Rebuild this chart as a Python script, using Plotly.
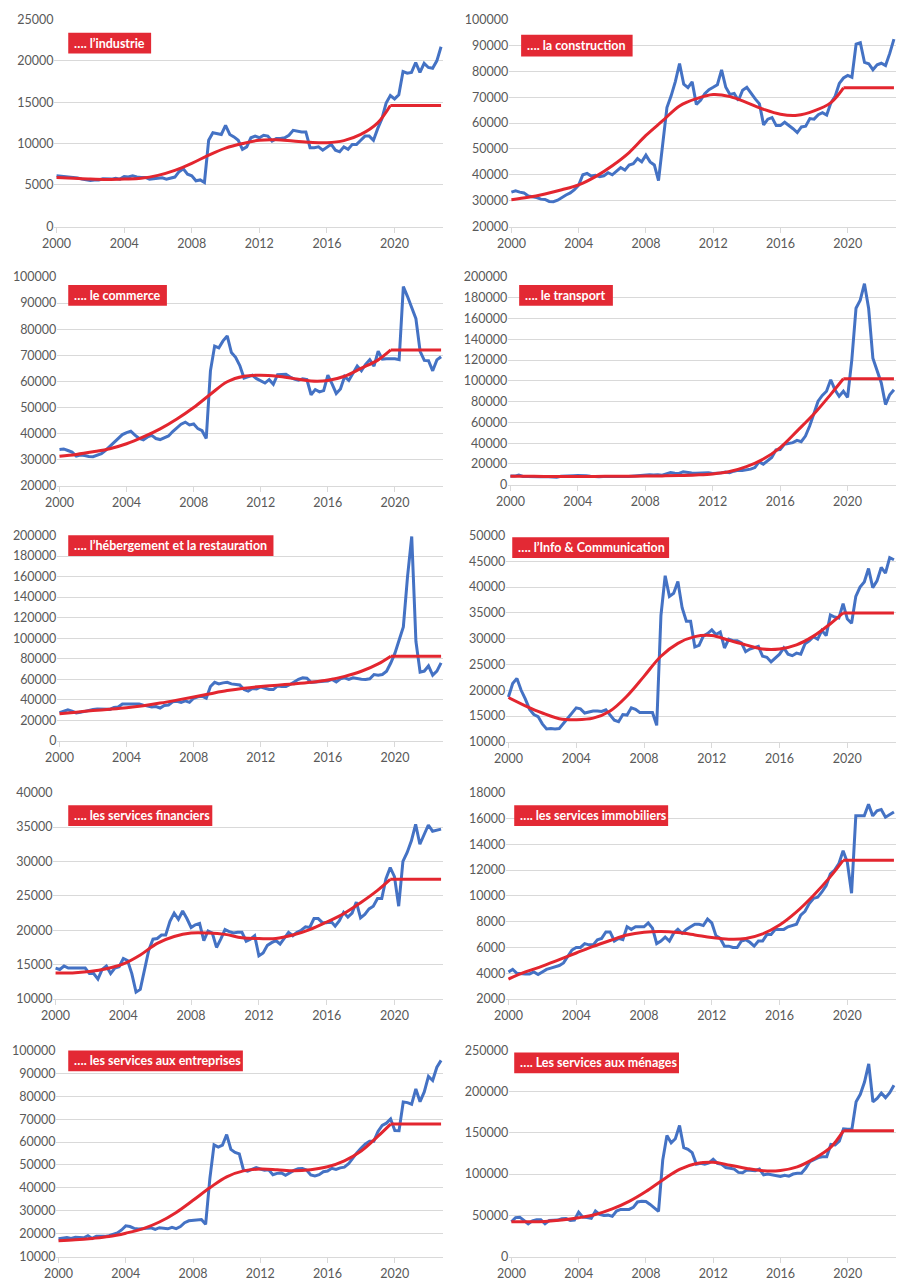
import plotly.graph_objects as go

# ---------------------------------------------------------------------------
# Quarterly series 2000T1 - 2022T4 (92 points) and smoothed trend per sector
# ---------------------------------------------------------------------------
YEARS = list(range(2000, 2023))
QUARTERS = [y + q / 4 for y in YEARS for q in range(4)]
TREND_X = list(range(2000, 2020)) + [2019.75]
PLATEAU_X = [2019.75, 2022.75]
TICK_YEARS = [2000, 2004, 2008, 2012, 2016, 2020]
TICK_TEXT = [str(y) for y in TICK_YEARS]

TITLES = [
    "…. l’industrie",
    "…. la construction",
    "…. le commerce",
    "…. le transport",
    "…. l’hébergement et la restauration",
    "…. l’Info & Communication",
    "…. les services financiers",
    "…. les services immobiliers",
    "…. les services aux entreprises",
    "…. Les services aux ménages",
]

INDUSTRIE = [
    6100, 6050, 5950, 5900, 5900, 5850, 5700, 5650, 5550, 5600, 5600, 5750,
    5700, 5700, 5800, 5700, 6000, 5950, 6100, 5950, 5900, 5900, 5700, 5750,
    5750, 5850, 5700, 5800, 5950, 6600, 6950, 6300, 6100, 5500, 5600, 5300,
    10400, 11300, 11200, 11100, 12200, 11100, 10800, 10400, 9300, 9600, 10700, 10900,
    10700, 11000, 10900, 10300, 10600, 10600, 10700, 11000, 11600, 11500, 11400, 11400,
    9500, 9500, 9600, 9200, 9600, 9900, 9200, 9000, 9600, 9300, 9900, 9900,
    10400, 10900, 10900, 10400, 11800, 13000, 14900, 15800, 15400, 15900, 18700, 18500,
    18600, 19800, 18600, 19700, 19200, 19100, 20000, 21700,
]
TREND_INDUSTRIE = [5900, 5800, 5700, 5650, 5700, 5800, 6150, 6750, 7600, 8600, 9450,
                   10000, 10400, 10450, 10300, 10150, 10100, 10350, 11100, 12500, 14600]

CONSTRUCTION = [
    33300, 33800, 33300, 33000, 31800, 31600, 31200, 30600, 30500, 29700, 29600, 30200,
    31300, 32200, 33000, 34300, 36000, 40000, 40500, 39500, 39800, 39300, 39600, 40800,
    40000, 41500, 42800, 41800, 43800, 44300, 46300, 45000, 47600, 45000, 43800, 37800,
    52000, 66000, 70500, 76000, 83000, 75000, 73700, 75900, 67200, 68800, 71300, 72900,
    73800, 74800, 80500, 73800, 71000, 71400, 68700, 72700, 73800, 71500, 69300, 67400,
    59300, 61500, 62100, 59000, 59000, 60300, 59200, 57800, 56300, 58500, 58800, 61700,
    61500, 63200, 64000, 63100, 67800, 70300, 75300, 77400, 78400, 77700, 90500, 91000,
    83400, 82900, 80600, 82500, 83100, 82200, 86900, 92400,
]
TREND_CONSTRUCTION = [30400, 31300, 32600, 34200, 36100, 39300, 43500, 48600, 55200, 60900, 66600,
                      69400, 71000, 70200, 67900, 65300, 63400, 63000, 64700, 67900, 73600]

COMMERCE = [
    33800, 34000, 33400, 32800, 31300, 31700, 31500, 31100, 31000, 31600, 32200, 33500,
    35000, 36300, 38000, 39500, 40300, 40800, 39300, 38000, 37500, 38600, 39200, 38000,
    37600, 38200, 39000, 40700, 42300, 43500, 44300, 43200, 43600, 41800, 41000, 38000,
    64000, 73500, 72800, 75500, 77400, 71000, 69200, 66000, 61200, 61800, 62300, 61000,
    60200, 59300, 60600, 58800, 62500, 62500, 62700, 61600, 60800, 60400, 60900, 60600,
    54800, 56800, 55900, 56400, 62300, 59000, 55300, 57000, 61800, 60300, 63300, 65800,
    64000, 66500, 68300, 65800, 71500, 68500, 68600, 68700, 68600, 68300, 96300, 92500,
    88500, 84000, 71500, 68000, 67900, 64000, 68200, 69400,
]
TREND_COMMERCE = [31200, 31900, 32900, 34100, 36000, 38600, 41700, 45500, 49900, 55000, 59800,
                  61900, 62300, 61900, 61000, 60100, 60300, 61900, 65000, 68200, 72000]

TRANSPORT = [
    8500, 8300, 9200, 8000, 7800, 8000, 7900, 7700, 7800, 7500, 7900, 7300,
    8200, 8600, 8400, 8700, 8900, 9000, 8600, 8200, 7800, 7700, 8000, 7900,
    8200, 7500, 7300, 7800, 8000, 8400, 8800, 9500, 9800, 9600, 9300, 9700,
    9200, 10200, 11800, 11000, 10800, 12500, 11600, 11200, 11000, 11200, 10800, 11500,
    10800, 10900, 11400, 12300, 11500, 13000, 14000, 13800, 14500, 15000, 16500, 22000,
    19800, 23000, 26200, 33500, 33800, 38900, 39500, 40500, 42700, 41400, 46900, 56500,
    68300, 80400, 86000, 90000, 101100, 91500, 85200, 90000, 84200, 120000, 170000, 177700,
    193600, 169700, 121800, 109000, 98000, 77200, 86700, 91500,
]
TREND_TRANSPORT = [8200, 8100, 8000, 8000, 8000, 8000, 8100, 8200, 8300, 8500, 8800,
                   9400, 10400, 12700, 17400, 24700, 35800, 51600, 68000, 87000, 102000]

HEBERGEMENT = [
    27500, 28500, 30200, 29000, 27300, 27800, 28800, 29500, 30500, 31000, 30800, 31000,
    30700, 32500, 33000, 36000, 36000, 36000, 35800, 36000, 34800, 34000, 33000, 33500,
    32000, 34500, 35000, 38000, 38500, 37500, 39000, 37500, 41500, 43000, 43500, 41500,
    53000, 57000, 55500, 56500, 57000, 55500, 55000, 54500, 50000, 48500, 51000, 50500,
    52500, 51000, 50000, 50000, 53500, 53000, 53000, 55000, 57500, 60000, 61500, 61000,
    57000, 57500, 58000, 58000, 58200, 59800, 57300, 60500, 61400, 59800, 61400, 60500,
    60000, 59800, 60500, 64600, 64000, 64600, 67800, 75800, 85400, 98200, 111000, 160000,
    199000, 97000, 67000, 68000, 73000, 64000, 68000, 76000,
]
TREND_HEBERGEMENT = [26500, 28000, 29500, 30800, 32300, 34300, 36800, 39700, 42800, 46000, 49000,
                     51300, 53000, 54300, 55500, 57000, 59200, 62800, 67800, 75000, 82500]

INFO_COM = [
    18700, 21300, 22300, 20000, 18300, 16300, 15300, 14900, 13500, 12500, 12600, 12500,
    12600, 13600, 14600, 15500, 16600, 16400, 15600, 15800, 16000, 16000, 15900, 16200,
    15300, 14200, 13900, 15300, 15200, 16600, 16300, 15700, 15700, 15700, 15700, 13200,
    34500, 42200, 38200, 38800, 41100, 36000, 33400, 33400, 28400, 28700, 30500, 31000,
    31700, 30800, 31300, 28200, 29900, 29600, 29600, 29200, 27500, 28000, 28200, 28500,
    26600, 26400, 25500, 26300, 27000, 28200, 27000, 26700, 27200, 27000, 29000, 29600,
    30400, 29900, 31600, 30600, 34600, 34200, 34000, 36800, 33800, 33000, 38200, 40000,
    41000, 43600, 39900, 41200, 43800, 42700, 45700, 45300,
]
TREND_INFO_COM = [18600, 17000, 15600, 14500, 14300, 14600, 16000, 18900, 22700, 26600, 29100,
                  30400, 30600, 29700, 28800, 28000, 28000, 28800, 30500, 32900, 35000]

FINANCIERS = [
    14500, 14300, 14800, 14500, 14500, 14500, 14500, 14500, 13700, 13700, 12900, 14300,
    14800, 13700, 14500, 14700, 15900, 15600, 13700, 11000, 11400, 14500, 17100, 18700,
    18800, 19300, 19300, 21300, 22500, 21600, 22800, 21700, 20400, 20800, 21000, 18500,
    19900, 19600, 17500, 18700, 20100, 19800, 19600, 19700, 19700, 18400, 18700, 19200,
    16300, 16700, 17800, 18200, 18500, 18000, 18800, 19700, 19200, 19700, 20000, 20500,
    20400, 21700, 21700, 21100, 21100, 21300, 20600, 21400, 22600, 21900, 22500, 24100,
    21800, 22300, 23100, 23500, 24600, 24600, 27500, 29100, 27800, 23500, 30000, 31300,
    33000, 35400, 32500, 34000, 35300, 34400, 34500, 34700,
]
TREND_FINANCIERS = [13800, 13800, 14000, 14400, 15100, 16400, 18100, 19100, 19600, 19600, 19400,
                    18900, 18800, 18800, 19300, 20100, 21200, 22400, 24000, 25800, 27400]

IMMOBILIERS = [
    4100, 4300, 4000, 3950, 3950, 3950, 4100, 3900, 4100, 4300, 4400, 4500,
    4600, 4800, 5300, 5800, 6000, 6000, 6300, 6200, 6200, 6600, 6700, 7200,
    7200, 6500, 6700, 6600, 7600, 7400, 7600, 7600, 7600, 7900, 7500, 6300,
    6500, 6800, 6500, 7100, 7400, 7100, 7400, 7600, 7800, 7800, 7700, 8200,
    7900, 6900, 6700, 6100, 6100, 6000, 6000, 6500, 6600, 6400, 6100, 6500,
    6500, 7000, 7000, 7400, 7400, 7400, 7600, 7700, 7800, 8500, 8800, 9400,
    9800, 9900, 10300, 10800, 11700, 12000, 12500, 13500, 12600, 10200, 16200, 16200,
    16200, 17100, 16200, 16600, 16700, 16100, 16300, 16500,
]
TREND_IMMOBILIERS = [3550, 4100, 4550, 5060, 5570, 6080, 6540, 6970, 7180, 7230, 7150,
                     6970, 6770, 6640, 6690, 7050, 7740, 8760, 10030, 11490, 12750]

ENTREPRISES = [
    17700, 17800, 18200, 17800, 18300, 18200, 18100, 19000, 17800, 18800, 18600, 18700,
    19000, 19500, 20200, 21500, 23300, 23000, 22200, 21900, 22200, 22200, 22400, 21800,
    22500, 22200, 22000, 22700, 22100, 23000, 24700, 25500, 25700, 25600, 26100, 24000,
    44000, 58800, 57800, 58700, 63300, 56800, 55500, 54800, 47800, 47300, 48200, 48800,
    48200, 47700, 47900, 45700, 46300, 46500, 45500, 46700, 47600, 48300, 48400, 47800,
    45600, 45200, 45700, 47000, 47300, 48500, 48000, 48700, 49000, 50500, 53200, 55400,
    57400, 59200, 60400, 60400, 64700, 67300, 68300, 70100, 65100, 65000, 77600, 77300,
    76600, 83300, 77700, 82000, 88800, 87000, 92800, 95800,
]
TREND_ENTREPRISES = [16800, 17200, 17800, 18600, 20100, 22000, 25000, 29200, 34500, 40000, 44800,
                     47400, 48200, 47900, 47400, 47900, 49200, 51800, 56100, 62600, 67900]

MENAGES = [
    42000, 47000, 47500, 43500, 39500, 43000, 44500, 44500, 39500, 43500, 43500, 44000,
    45500, 46000, 43500, 44000, 53500, 47500, 47000, 46000, 55000, 51000, 49500, 50000,
    48500, 55000, 57000, 57000, 57000, 59500, 66000, 67000, 66500, 63000, 59000, 54500,
    117000, 147000, 138000, 143000, 159000, 132000, 130000, 126000, 112000, 113000, 112000, 113500,
    118000, 113000, 112000, 108000, 107000, 106000, 102000, 101500, 105000, 104500, 104000, 106000,
    99000, 100000, 99000, 98500, 97000, 98500, 97500, 100000, 101000, 101000, 107000, 115000,
    118000, 120000, 121000, 121000, 136000, 135500, 140000, 155000, 154500, 154500, 188000, 197000,
    212000, 234000, 188000, 192000, 198500, 193000, 199000, 208000,
]
TREND_MENAGES = [42000, 42000, 42400, 44000, 46800, 50800, 57600, 66800, 78800, 92800, 105600,
                 112800, 114400, 110800, 106800, 104000, 104400, 108800, 118800, 132800, 152800]

SERIES = [INDUSTRIE, CONSTRUCTION, COMMERCE, TRANSPORT, HEBERGEMENT,
          INFO_COM, FINANCIERS, IMMOBILIERS, ENTREPRISES, MENAGES]
TRENDS = [TREND_INDUSTRIE, TREND_CONSTRUCTION, TREND_COMMERCE, TREND_TRANSPORT, TREND_HEBERGEMENT,
          TREND_INFO_COM, TREND_FINANCIERS, TREND_IMMOBILIERS, TREND_ENTREPRISES, TREND_MENAGES]

# y-axis scale of each panel: (min, max, step)
Y_SCALES = [(0, 25000, 5000), (20000, 100000, 10000), (20000, 100000, 10000),
            (0, 200000, 20000), (0, 200000, 20000), (10000, 50000, 5000),
            (10000, 40000, 5000), (2000, 18000, 2000), (10000, 100000, 10000),
            (0, 250000, 50000)]

# ---------------------------------------------------------------------------
# Page geometry (pixels on a 900 x 1284 page)
# ---------------------------------------------------------------------------
W, H = 900, 1284
# plot area: left, right, top, bottom
PLOT_BOXES = [
    (43, 437, 12.3, 222.0), (504, 896, 12.3, 222.3),
    (46, 437, 272.7, 484.0), (503, 896, 272.7, 483.3),
    (46, 437, 534.0, 742.3), (501, 896, 534.0, 743.3),
    (42, 437, 794.0, 1003.3), (501, 896, 794.0, 1003.3),
    (45, 437, 1055.0, 1263.3), (504, 896, 1055.0, 1263.3),
]
# red title tags: left, right, top, bottom
TAG_BOXES = [
    (57, 141, 26, 47), (516, 629, 28, 50),
    (57, 157, 281, 302), (514, 609, 281, 302),
    (57, 265, 534, 555), (507, 666, 536, 557),
    (57, 203, 807, 828), (509, 665, 807, 828),
    (57, 234, 1055, 1076), (509, 676, 1057, 1078),
]

BLUE = "#4472C4"
RED = "#E3262F"
TAG_RED = "#E32934"
GRID = "#D9D9D9"
TEXT_GREY = "#595959"
FONT = "Lato"

fig = go.Figure()
shapes, annotations = [], []

for k in range(10):
    sfx = "" if k == 0 else str(k + 1)
    xa, ya = "x" + sfx, "y" + sfx
    ymin, ymax, step = Y_SCALES[k]
    trend = TRENDS[k]

    fig.add_trace(go.Scatter(
        x=QUARTERS, y=SERIES[k], mode="lines", xaxis=xa, yaxis=ya,
        line=dict(color=BLUE, width=3), hoverinfo="skip", showlegend=False))
    fig.add_trace(go.Scatter(
        x=TREND_X, y=trend, mode="lines", xaxis=xa, yaxis=ya,
        line=dict(color=RED, width=3, shape="spline", smoothing=1.0),
        hoverinfo="skip", showlegend=False))
    fig.add_trace(go.Scatter(
        x=PLATEAU_X, y=[trend[-1], trend[-1]], mode="lines", xaxis=xa, yaxis=ya,
        line=dict(color=RED, width=3), hoverinfo="skip", showlegend=False))

    left, right, top, bottom = PLOT_BOXES[k]
    pad = (ymax - ymin) * 0.0015
    fig.layout["xaxis" + sfx] = dict(
        domain=[left / W, right / W], anchor=ya,
        range=[1999.875, 2022.875],
        tickmode="array", tickvals=TICK_YEARS, ticktext=TICK_TEXT,
        ticks="outside", ticklen=5, tickcolor=GRID, tickwidth=1,
        showgrid=False, zeroline=False, showline=True, linecolor=GRID, linewidth=1,
        tickfont=dict(family=FONT, size=12.5, color=TEXT_GREY), fixedrange=True)
    fig.layout["yaxis" + sfx] = dict(
        domain=[1 - bottom / H, 1 - top / H], anchor=xa,
        range=[ymin - pad, ymax + pad], tick0=ymin, dtick=step, tickformat="d",
        showgrid=True, gridcolor=GRID, gridwidth=1, zeroline=False, showline=False,
        ticks="", tickfont=dict(family=FONT, size=12.5, color=TEXT_GREY), fixedrange=True)

    tl, tr, tt, tb = TAG_BOXES[k]
    shapes.append(dict(type="rect", xref="paper", yref="paper",
                       x0=tl / W, x1=tr / W, y0=1 - tb / H, y1=1 - tt / H,
                       fillcolor=TAG_RED, line=dict(width=0), layer="above"))
    annotations.append(dict(xref="paper", yref="paper", x=(tl + 3.5) / W,
                            y=1 - (tt + tb) / 2 / H, xanchor="left", yanchor="middle",
                            text=TITLES[k], showarrow=False,
                            font=dict(family=FONT, size=12.5, color="white", weight="bold")))

fig.update_layout(
    width=W, height=H, margin=dict(l=0, r=0, t=0, b=0),
    paper_bgcolor="white", plot_bgcolor="white",
    shapes=shapes, annotations=annotations, showlegend=False)

fig.write_html("out.html", config={"displayModeBar": False})
